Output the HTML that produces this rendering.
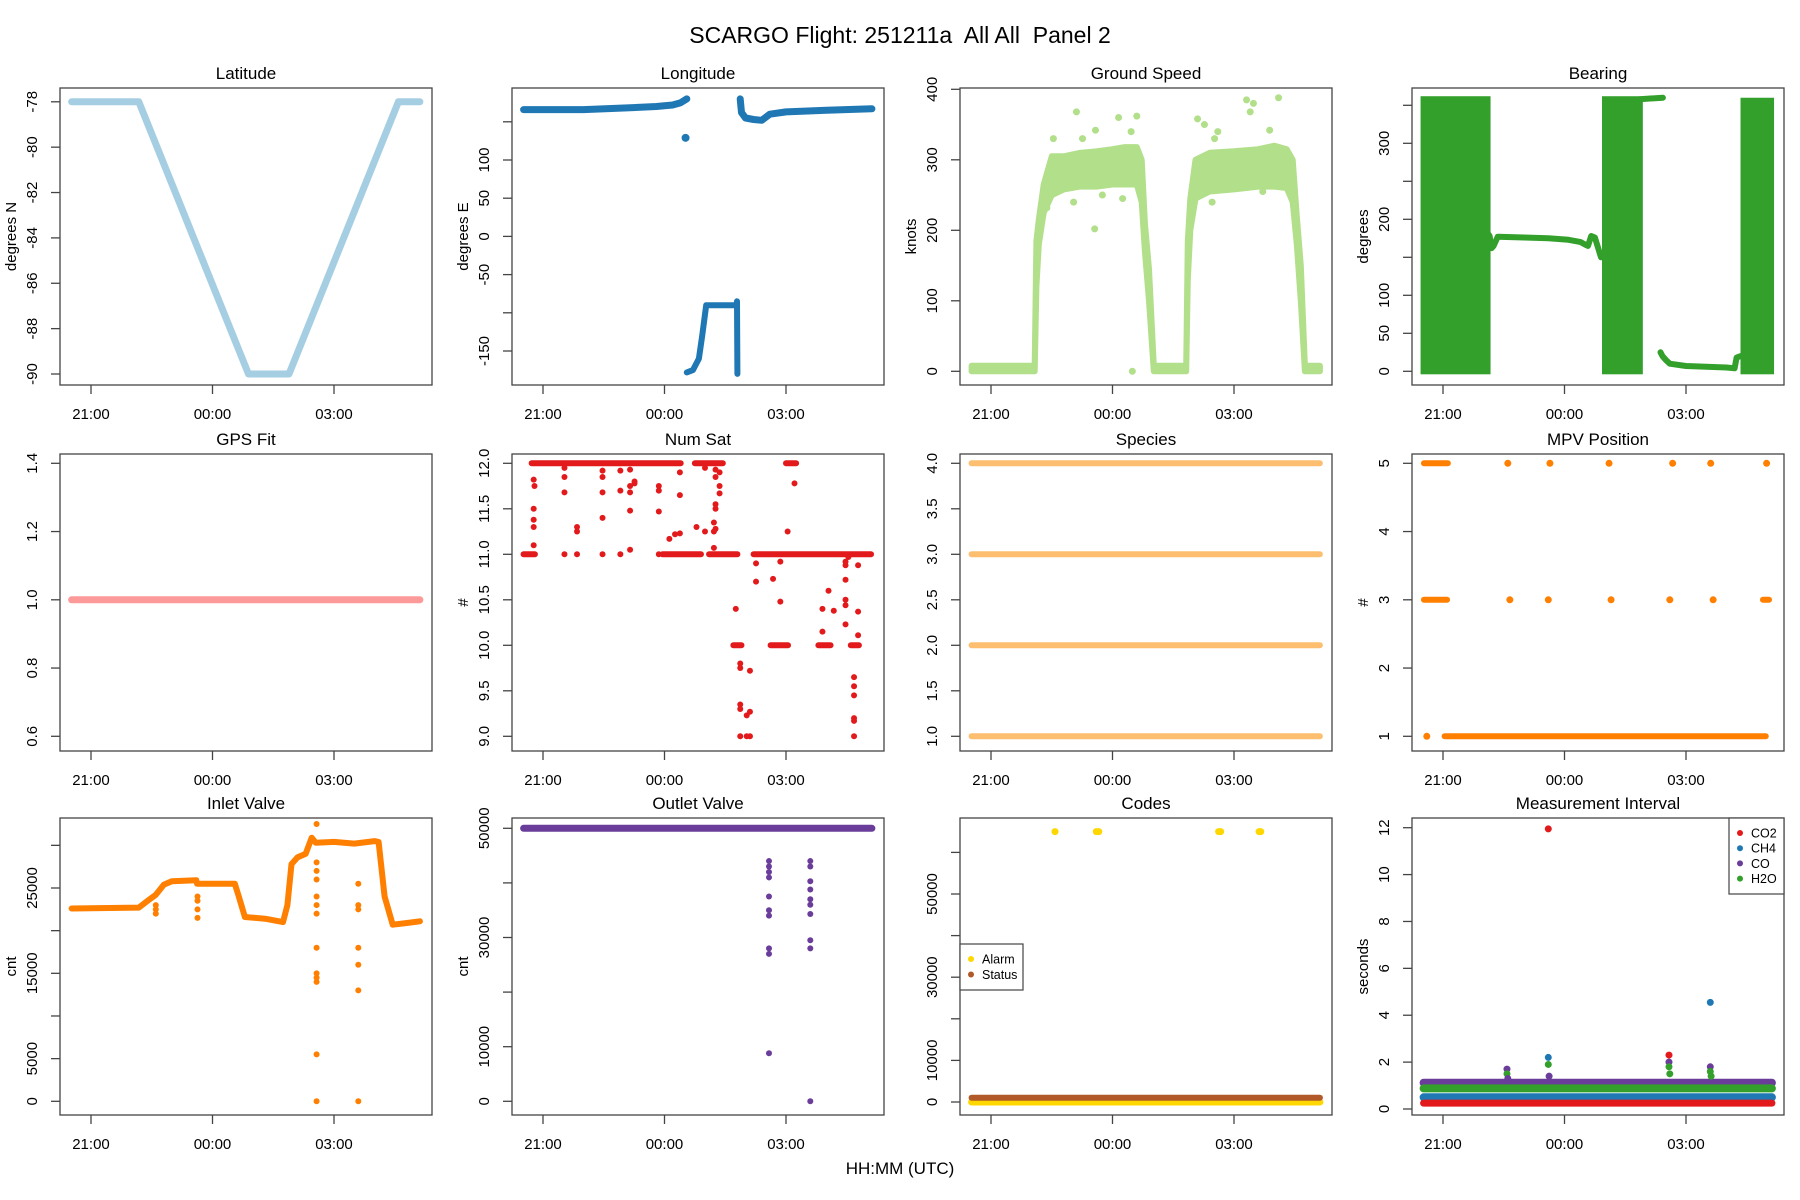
<!DOCTYPE html>
<html><head><meta charset="utf-8"><title>SCARGO Panel 2</title>
<style>
html,body{margin:0;padding:0;background:#fff;}
svg{display:block;font-family:"Liberation Sans",sans-serif;}
</style></head>
<body>
<svg id="chart" width="1800" height="1200" viewBox="0 0 1800 1200" xmlns="http://www.w3.org/2000/svg">
<rect x="0" y="0" width="1800" height="1200" fill="#fff"/>
<text x="900" y="43" text-anchor="middle" font-size="23" fill="#000" style="white-space:pre" xml:space="preserve">SCARGO Flight: 251211a  All All  Panel 2</text>
<text x="900" y="1174" text-anchor="middle" font-size="17" fill="#000">HH:MM (UTC)</text>
</svg>
<script>
// ---- data (hours relative to 21:00 UTC) ----
const timeTicks = [0, 3, 6];
const timeTickLabels = ["21:00", "00:00", "03:00"];

const latT = [-0.48, 1.18, 3.89, 4.89, 7.59, 8.12];
const latV = [-78, -78, -90, -90, -78, -78];

const lonT1 = [-0.48, 1.0, 2.0, 2.8, 3.2, 3.4, 3.55];
const lonV1 = [166, 166, 168, 170, 172, 175, 180];
const lonT2 = [4.87, 4.9, 5.0, 5.2, 5.4, 5.6, 6.0, 7.0, 8.12];
const lonV2 = [180, 162, 155, 153, 152, 160, 163, 165, 167];
const lonT3 = [3.55, 3.7, 3.85, 3.93, 4.03, 4.78, 4.79, 4.8];
const lonV3 = [-178, -175, -160, -130, -90, -90, -85, -180];
const lonPtT = [3.52];
const lonPtV = [129];

const gsT  = [-0.48,1.08,1.12,1.18,1.3,1.5,1.8,2.2,2.6,3.0,3.3,3.6,3.72,3.8,3.9,4.02,4.82,4.86,4.92,5.05,5.4,6.0,6.6,7.0,7.3,7.45,7.55,7.65,7.75,8.12];
const gsLo = [0,0,120,180,225,250,258,262,262,265,265,265,240,170,100,0,0,130,200,245,255,258,262,262,260,240,180,100,0,0];
const gsHi = [8,8,185,215,265,305,305,310,312,315,318,318,300,210,145,8,8,185,245,300,310,312,315,320,315,300,220,150,8,8];
const gsOutT = [1.54,2.11,2.26,2.58,3.15,3.6,3.46,2.56,3.49,5.10,5.27,5.6,6.31,6.48,6.40,7.10,6.88,5.52,5.74,2.04,2.75,3.25,5.46,6.71,1.3,1.38];
const gsOutV = [330,368,330,342,360,362,340,202,0,358,350,340,385,380,368,388,342,330,300,240,250,245,240,255,235,232];

const beBlkT0 = [-0.48, 4.0, 7.42];
const beBlkT1 = [1.1, 4.86, 8.1];
const beBlkTop = [358, 358, 356];
const beCurT = [1.1,1.15,1.2,1.25,1.35,2.0,2.6,3.1,3.4,3.5,3.58,3.66,3.75,3.9];
const beCurV = [182,178,162,165,177,176,175,173,170,167,165,178,176,150];
const beTopT = [4.86, 5.43];
const beTopV = [358, 360];
const beLowT = [5.37,5.42,5.5,5.6,6.0,6.5,7.0,7.2,7.25,7.35];
const beLowV = [25,20,15,10,7,6,5,4,18,20];

const fitT = [-0.48, 8.12];
const fitV = [1.0, 1.0];

const nsSegT0 = [-0.28, 3.75, 6.0, -0.48, 2.95, 4.1, 5.2, 4.7, 5.62, 6.8, 7.6];
const nsSegT1 = [3.4, 4.44, 6.25, -0.2, 3.9, 4.8, 8.1, 4.9, 6.05, 7.1, 7.8];
const nsSegV  = [12, 12, 12, 11, 11, 11, 11, 10, 10, 10, 10];
const nsPtT = [-0.23,-0.21,-0.23,-0.23,-0.23,-0.23,0.53,0.53,0.53,0.53,0.84,0.84,0.84,1.47,1.47,1.47,1.47,1.47,1.91,1.91,1.91,2.15,2.15,2.15,2.15,2.15,2.26,2.26,2.86,2.86,2.86,2.86,3.12,3.26,3.38,3.38,3.38,3.79,4.0,4.0,4.22,4.22,4.22,4.26,4.26,4.26,4.26,4.26,4.36,4.36,4.36,4.76,4.87,4.87,4.87,4.87,4.87,5.03,5.03,5.11,5.11,5.11,5.26,5.26,5.68,5.86,5.86,6.04,6.21,6.9,6.9,7.05,7.18,7.47,7.47,7.47,7.47,7.47,7.47,7.54,7.68,7.68,7.68,7.68,7.68,7.68,7.78,7.78,7.78];
const nsPtV = [11.82,11.75,11.5,11.38,11.3,11.1,11.95,11.85,11.68,11.0,11.3,11.25,11.0,11.92,11.85,11.68,11.4,11.0,11.92,11.7,11.0,11.93,11.75,11.68,11.48,11.05,11.8,11.78,11.75,11.7,11.47,11.0,11.17,11.22,11.9,11.65,11.23,11.3,11.95,11.25,11.35,11.25,11.07,11.93,11.85,11.55,11.5,11.28,11.9,11.75,11.67,10.4,9.8,9.75,9.35,9.3,9.0,9.23,9.0,9.72,9.27,9.0,10.9,10.7,10.73,10.92,10.48,11.25,11.78,10.4,10.15,10.6,10.38,10.92,10.88,10.72,10.5,10.44,10.23,10.97,9.65,9.55,9.45,9.2,9.17,9.0,10.88,10.37,10.11];

const spLevels = [1, 2, 3, 4];
const spT0 = -0.48;
const spT1 = 8.12;

const mpvSegT0 = [0.04, -0.47, -0.47, 7.9];
const mpvSegT1 = [7.97, 0.12, 0.1, 8.05];
const mpvSegV  = [1, 5, 3, 3];
const mpvPtT = [-0.4, 1.6, 2.64, 4.1, 5.67, 6.61, 7.99, 1.65, 2.6, 4.15, 5.6, 6.67];
const mpvPtV = [1, 5, 5, 5, 5, 5, 5, 3, 3, 3, 3, 3];

const inT = [-0.48,1.18,1.4,1.6,1.8,2.0,2.6,2.62,3.55,3.65,3.8,4.3,4.74,4.85,4.95,5.1,5.3,5.45,5.55,6.0,6.5,7.0,7.1,7.25,7.45,7.8,8.12];
const inV = [22600,22700,23500,24200,25400,25800,25900,25500,25500,24000,21600,21400,21000,23000,27800,28600,29000,30900,30300,30400,30200,30500,30400,24000,20700,20900,21100];
const inPtT = [1.6,1.6,1.6,2.63,2.63,2.63,2.63,5.57,5.57,5.57,5.57,5.57,5.57,5.57,5.57,5.57,5.57,5.57,5.57,5.57,6.6,6.6,6.6,6.6,6.6,6.6,6.6];
const inPtV = [22000,22500,23000,21500,22500,23500,24000,0,5500,14000,14500,15000,18000,22000,23000,24000,26000,27000,28000,32500,0,13000,16000,18000,22500,23000,25500];

const outT = [-0.48, 8.12];
const outV = [50000, 50000];
const outPtT = [5.58,5.58,5.58,5.58,5.58,5.58,5.58,5.58,5.58,5.58,6.6,6.6,6.6,6.6,6.6,6.6,6.6,6.6,6.6,6.6];
const outPtV = [44000,43000,42000,41000,37500,35000,34000,28000,27000,8800,44000,43000,40300,38800,37000,36000,34300,29500,28000,0];

const alarmT = [-0.48, 8.12];
const alarmV = [0, 0];
const alarmPtT = [1.58, 2.6, 2.66, 5.62, 5.67, 6.62, 6.66];
const alarmPtV = [65000, 65000, 65000, 65000, 65000, 65000, 65000];
const statusT = [-0.48, 8.12];
const statusV = [1000, 1000];

const miT = [-0.48, 8.12];
const miCO2 = [0.25, 0.25];
const miCH4 = [0.5, 0.5];
const miCO = [1.12, 1.12];
const miH2O = [0.88, 0.88];
const miSpikeT = [1.58, 1.58, 1.6, 2.6, 2.6, 2.6, 2.62, 5.58, 5.58, 5.58, 5.6, 6.6, 6.6, 6.62, 6.6];
const miSpikeV = [1.7, 1.5, 1.3, 2.2, 11.95, 1.9, 1.4, 2.3, 2.0, 1.8, 1.5, 1.8, 1.6, 1.4, 4.55];
const miSpikeS = ["CO","H2O","CO","CH4","CO2","H2O","CO","CO2","CO","H2O","H2O","CO","H2O","H2O","CH4"];

// ---- layout ----
const svg = document.getElementById('chart');
const NS = 'http://www.w3.org/2000/svg';
const colLeft = [60, 512, 960, 1412];
const rowTop = [88, 454, 818];
const W = 372, H = 297;

function mk(tag, attrs) {
  const e = document.createElementNS(NS, tag);
  for (const k in attrs) e.setAttribute(k, attrs[k]);
  svg.appendChild(e);
  return e;
}
function makeX(left) { return h => left + 31 + h * 40.5; }
function makeY(v1, p1, v2, p2) { return v => p1 + (v - v1) * (p2 - p1) / (v2 - v1); }

function panel(name, title, col, row, ys, ticks, labels, ylab) {
  const L = colLeft[col], T = rowTop[row];
  const xs = makeX(L);
  const box = mk('rect', {x: L, y: T, width: W, height: H, fill: 'none', stroke: '#444', 'stroke-width': 1.3});
  
  
  const tt = mk('text', {x: L + W / 2, y: T - 9, 'text-anchor': 'middle', 'font-size': 17});
  tt.textContent = title;
  
  
  timeTicks.forEach((h, i) => {
    const tk = mk('line', {x1: xs(h), x2: xs(h), y1: T + H, y2: T + H + 9, stroke: '#444', 'stroke-width': 1.3});
    
    
    const tl = mk('text', {x: xs(h), y: T + H + 34, 'text-anchor': 'middle', 'font-size': 15});
    tl.textContent = timeTickLabels[i];
    
    
  });
  ticks.forEach((v, i) => {
    const y = ys(v);
    const tk = mk('line', {x1: L - 9, x2: L, y1: y, y2: y, stroke: '#444', 'stroke-width': 1.3});
    
    
    if (labels[i] !== '') {
      const tl = mk('text', {x: 0, y: 0, 'text-anchor': 'middle', 'font-size': 15,
        transform: 'translate(' + (L - 23) + ',' + y + ') rotate(-90)'});
      tl.textContent = labels[i];
      
      
    }
  });
  if (ylab) {
    const yl = mk('text', {x: 0, y: 0, 'text-anchor': 'middle', 'font-size': 15,
      transform: 'translate(' + (L - 44) + ',' + (T + H / 2) + ') rotate(-90)'});
    yl.textContent = ylab;
    
    
  }
  return xs;
}
function line(name, xs, ys, T, V, color, w) {
  const pts = T.map((t, i) => xs(t).toFixed(1) + ',' + ys(V[i]).toFixed(1)).join(' ');
  const p = mk('polyline', {points: pts, fill: 'none', stroke: color, 'stroke-width': w || 7, 'stroke-linejoin': 'round', 'stroke-linecap': 'round'});
  
  
}
function dots(name, xs, ys, T, V, color, r) {
  T.forEach((t, i) => {
    const c = mk('circle', {cx: xs(t), cy: ys(V[i]), r: r || 3.5, fill: color});
    
    
  });
}
function segs(name, xs, ys, T0, T1, V, color, w) {
  T0.forEach((t, i) => {
    const s = mk('line', {x1: xs(t), x2: xs(T1[i]), y1: ys(V[i]), y2: ys(V[i]), stroke: color, 'stroke-width': w || 7, 'stroke-linecap': 'round'});
    
    
  });
}

// 1 Latitude
let ys = makeY(-78, 101.8, -90, 374);
let xs = panel('latitude', 'Latitude', 0, 0, ys, [-90,-88,-86,-84,-82,-80,-78], ['-90','-88','-86','-84','-82','-80','-78'], 'degrees N');
line('latitude-series', xs, ys, latT, latV, '#a6cee3');

// 2 Longitude
ys = makeY(100, 160, -150, 351);
xs = panel('longitude', 'Longitude', 1, 0, ys, [-150,-100,-50,0,50,100,150], ['-150','','-50','0','50','100',''], 'degrees E');
line('longitude-series-west', xs, ys, lonT1, lonV1, '#1f78b4');
line('longitude-series-east', xs, ys, lonT2, lonV2, '#1f78b4');
line('longitude-series-pole', xs, ys, lonT3, lonV3, '#1f78b4', 6);
dots('longitude-point', xs, ys, lonPtT, lonPtV, '#1f78b4', 4);

// 3 Ground Speed
ys = makeY(400, 89.3, 0, 371.3);
xs = panel('ground-speed', 'Ground Speed', 2, 0, ys, [0,100,200,300,400], ['0','100','200','300','400'], 'knots');
{
  const up = gsT.map((t, i) => xs(t).toFixed(1) + ',' + ys(gsHi[i]).toFixed(1));
  const dn = gsT.map((t, i) => xs(t).toFixed(1) + ',' + ys(gsLo[i]).toFixed(1)).reverse();
  const p = mk('polygon', {points: up.concat(dn).join(' '), fill: '#b2df8a', stroke: '#b2df8a', 'stroke-width': 6, 'stroke-linejoin': 'round'});
  
  
}
dots('ground-speed-outlier', xs, ys, gsOutT, gsOutV, '#b2df8a', 3.5);

// 4 Bearing
ys = makeY(0, 371.3, 300, 143.3);
xs = panel('bearing', 'Bearing', 3, 0, ys, [0,50,100,150,200,250,300,350], ['0','50','100','','200','','300',''], 'degrees');
beBlkT0.forEach((t, i) => {
  const r = mk('rect', {x: xs(t) - 3, y: ys(beBlkTop[i]) - 3, width: xs(beBlkT1[i]) - xs(t) + 6, height: ys(0) - ys(beBlkTop[i]) + 6, fill: '#33a02c'});
  
  
});
line('bearing-cruise-leg1', xs, ys, beCurT, beCurV, '#33a02c', 6);
line('bearing-top-leg', xs, ys, beTopT, beTopV, '#33a02c', 6);
line('bearing-cruise-leg2', xs, ys, beLowT, beLowV, '#33a02c', 6);

// 5 GPS Fit
ys = makeY(1.4, 463.3, 0.6, 736.3);
xs = panel('gps-fit', 'GPS Fit', 0, 1, ys, [0.6,0.8,1.0,1.2,1.4], ['0.6','0.8','1.0','1.2','1.4'], '');
line('gps-fit-series', xs, ys, fitT, fitV, '#fb9a99');

// 6 Num Sat
ys = makeY(12, 463.3, 9, 736.3);
xs = panel('num-sat', 'Num Sat', 1, 1, ys, [9,9.5,10,10.5,11,11.5,12], ['9.0','9.5','10.0','10.5','11.0','11.5','12.0'], '#');
segs('num-sat-run', xs, ys, nsSegT0, nsSegT1, nsSegV, '#e31a1c', 6);
dots('num-sat-point', xs, ys, nsPtT, nsPtV, '#e31a1c', 3);

// 7 Species
ys = makeY(4, 463.3, 1, 736.3);
xs = panel('species', 'Species', 2, 1, ys, [1,1.5,2,2.5,3,3.5,4], ['1.0','1.5','2.0','2.5','3.0','3.5','4.0'], '');
segs('species-level', xs, ys, spLevels.map(() => spT0), spLevels.map(() => spT1), spLevels, '#fdbf6f', 6);

// 8 MPV Position
ys = makeY(5, 463.3, 1, 736.3);
xs = panel('mpv-position', 'MPV Position', 3, 1, ys, [1,2,3,4,5], ['1','2','3','4','5'], '#');
segs('mpv-run', xs, ys, mpvSegT0, mpvSegT1, mpvSegV, '#ff7f00', 6);
dots('mpv-point', xs, ys, mpvPtT, mpvPtV, '#ff7f00', 3.5);

// 9 Inlet Valve
ys = makeY(0, 1101.3, 25000, 888);
xs = panel('inlet-valve', 'Inlet Valve', 0, 2, ys, [0,5000,10000,15000,20000,25000,30000], ['0','5000','','15000','','25000',''], 'cnt');
line('inlet-valve-series', xs, ys, inT, inV, '#ff7f00', 6);
dots('inlet-valve-point', xs, ys, inPtT, inPtV, '#ff7f00', 3);

// 10 Outlet Valve
ys = makeY(0, 1101.3, 50000, 828.3);
xs = panel('outlet-valve', 'Outlet Valve', 1, 2, ys, [0,10000,20000,30000,40000,50000], ['0','10000','','30000','','50000'], 'cnt');
line('outlet-valve-series', xs, ys, outT, outV, '#6a3d9a', 7);
dots('outlet-valve-point', xs, ys, outPtT, outPtV, '#6a3d9a', 3);

// 11 Codes
ys = makeY(0, 1102, 50000, 894);
xs = panel('codes', 'Codes', 2, 2, ys, [0,10000,20000,30000,40000,50000,60000], ['0','10000','','30000','','50000',''], '');
line('codes-alarm-series', xs, ys, alarmT, alarmV, '#ffd700', 7);
line('codes-status-series', xs, ys, statusT, statusV, '#b15928', 6);
dots('codes-alarm-point', xs, ys, alarmPtT, alarmPtV, '#ffd700', 3.5);

// 12 Measurement Interval
ys = makeY(0, 1109, 12, 827.7);
xs = panel('measurement-interval', 'Measurement Interval', 3, 2, ys, [0,2,4,6,8,10,12], ['0','2','4','6','8','10','12'], 'seconds');
const miColors = {CO2: '#e31a1c', CH4: '#1f78b4', CO: '#6a3d9a', H2O: '#33a02c'};
line('mi-co-series', xs, ys, miT, miCO, miColors.CO, 8);
line('mi-h2o-series', xs, ys, miT, miH2O, miColors.H2O, 8);
line('mi-ch4-series', xs, ys, miT, miCH4, miColors.CH4, 8);
line('mi-co2-series', xs, ys, miT, miCO2, miColors.CO2, 7);
miSpikeT.forEach((t, i) => {
  const c = mk('circle', {cx: xs(t), cy: ys(miSpikeV[i]), r: 3.5, fill: miColors[miSpikeS[i]]});
  
  
});

// ---- legends ----
function legend(name, x, y, w, h, entries, colors, ys0, step) {
  const g = mk('rect', {x: x, y: y, width: w, height: h, fill: '#fff', stroke: '#444', 'stroke-width': 1.2});
  
  
  entries.forEach((e, i) => {
    const c = mk('circle', {cx: x + 11, cy: ys0 + i * step, r: 3, fill: colors[i]});
    
    
    const t = mk('text', {x: x + 22, y: ys0 + i * step + 4.5, 'font-size': 12.5});
    t.textContent = e;
    
    
  });
}
legend('codes-legend', 960, 944, 63, 46, ['Alarm', 'Status'], ['#ffd700', '#b15928'], 959, 15.5);
legend('mi-legend', 1729, 818, 55, 76, ['CO2', 'CH4', 'CO', 'H2O'], ['#e31a1c', '#1f78b4', '#6a3d9a', '#33a02c'], 833, 15.2);
</script>
</body></html>
